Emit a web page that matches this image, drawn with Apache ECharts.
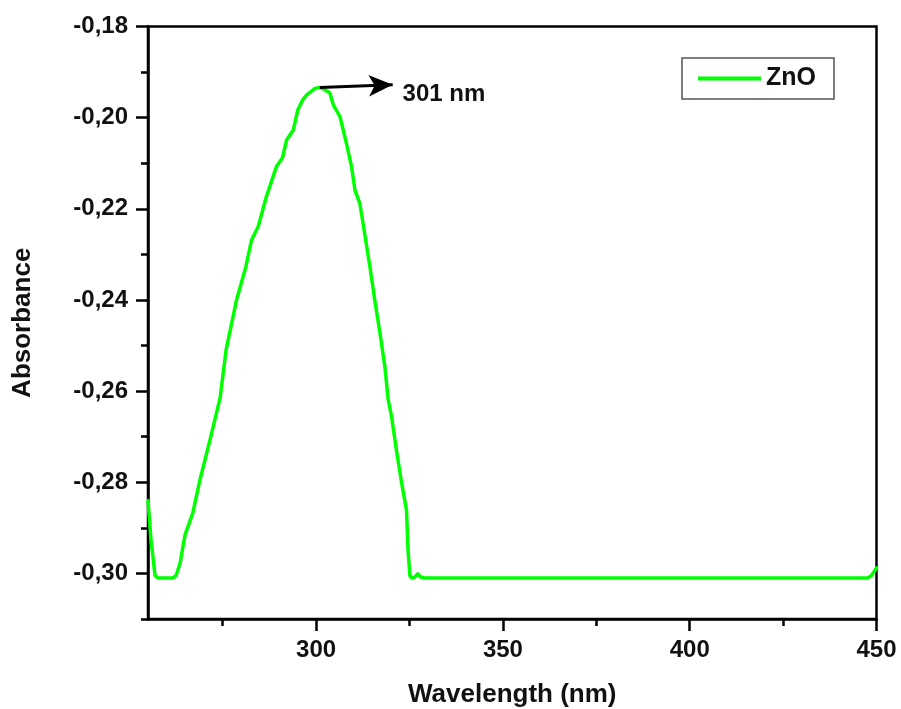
<!DOCTYPE html>
<html>
<head>
<meta charset="utf-8">
<script src="https://cdn.jsdelivr.net/npm/echarts@6/dist/echarts.min.js"></script>
<style>
  html, body { margin: 0; padding: 0; background: #fff; }
  #chart { width: 901px; height: 709px; }
</style>
</head>
<body>
<div id="chart"></div>
<script>
// UV-Vis absorbance spectrum of ZnO
const wavelength = [
  255.0, 255.8, 256.9, 257.7, 261.7, 262.5, 263.6, 264.9, 267.0, 268.9,
  271.6, 274.3, 275.9, 278.7, 281.2, 282.7, 284.5, 286.7, 289.4, 291.0,
  292.1, 293.9, 295.1, 296.4, 297.5, 299.7, 301.0, 302.2, 303.7, 304.6,
  306.4, 308.1, 309.5, 310.4, 311.7, 313.0, 314.4, 315.7, 317.1, 318.4,
  319.3, 320.2, 321.5, 322.9, 324.2, 324.6, 325.1, 325.6, 326.4, 327.2,
  328.0, 329.1, 447.6, 448.6, 450.0
];
const absorbance = [
  -0.2840, -0.2926, -0.3005, -0.3010, -0.3010, -0.3005, -0.2977, -0.2916, -0.2867, -0.2795,
  -0.2707, -0.2615, -0.2510, -0.2400, -0.2327, -0.2269, -0.2239, -0.2173, -0.2107, -0.2088,
  -0.2049, -0.2027, -0.1983, -0.1961, -0.1950, -0.1936, -0.1934, -0.1938, -0.1946, -0.1972,
  -0.1998, -0.2056, -0.2108, -0.2159, -0.2188, -0.2254, -0.2327, -0.2400, -0.2473, -0.2546,
  -0.2619, -0.2656, -0.2729, -0.2802, -0.2861, -0.2948, -0.3005, -0.3010, -0.3008, -0.3001,
  -0.3008, -0.3010, -0.3010, -0.3005, -0.2988
];

const xMajorTicks = [300, 350, 400, 450];
const xMinorTicks = [275, 325, 375, 425];
const yMajorTicks = [-0.30, -0.28, -0.26, -0.24, -0.22, -0.20, -0.18];
const yMinorTicks = [-0.31, -0.29, -0.27, -0.25, -0.23, -0.21, -0.19];

const seriesName = 'ZnO';
const peakLabel = '301 nm';

// peak of the spectrum, where the arrow starts
let peakIdx = 0;
absorbance.forEach((v, i) => { if (v > absorbance[peakIdx]) peakIdx = i; });
const peakPoint = [wavelength[peakIdx], absorbance[peakIdx]];

const font = '"Liberation Sans", Arial, sans-serif';
const fmtY = v => v.toFixed(2).replace('.', ',');

const chart = echarts.init(document.getElementById('chart'), null, { renderer: 'canvas' });

chart.setOption({
  animation: false,
  backgroundColor: '#ffffff',
  grid: {
    left: 148, right: 24.5, top: 26.5, bottom: 90,
    outerBoundsMode: 'none',
    containLabel: false,
    show: true, borderColor: '#000', borderWidth: 2.5, backgroundColor: 'transparent'
  },
  legend: {
    data: [{ name: seriesName, icon: 'rect' }],
    left: 682, top: 58,
    padding: [8, 18, 8, 16],
    itemWidth: 63, itemHeight: 4, itemGap: 5,
    borderColor: '#555', borderWidth: 1.5,
    textStyle: { fontFamily: font, fontWeight: 'bold', fontSize: 25, color: '#111' }
  },
  xAxis: [{
    type: 'value', min: 255, max: 450,
    name: 'Wavelength (nm)', nameLocation: 'middle', nameGap: 63,
    nameTextStyle: { fontFamily: font, fontWeight: 'bold', fontSize: 26, color: '#111' },
    axisLine: { show: true, lineStyle: { color: '#000', width: 2.5 } },
    axisTick: { show: true, inside: false, length: 12, customValues: xMajorTicks,
                lineStyle: { color: '#000', width: 2.5 } },
    axisLabel: { customValues: xMajorTicks, margin: 19,
                 fontFamily: font, fontWeight: 'bold', fontSize: 24, color: '#111' },
    splitLine: { show: false }
  }, {
    type: 'value', min: 255, max: 450, position: 'bottom',
    axisLine: { show: false },
    axisTick: { show: true, inside: false, length: 7, customValues: xMinorTicks,
                lineStyle: { color: '#000', width: 2.5 } },
    axisLabel: { show: false },
    splitLine: { show: false }
  }],
  yAxis: [{
    type: 'value', min: -0.31, max: -0.18,
    name: 'Absorbance', nameLocation: 'middle', nameGap: 112,
    nameTextStyle: { fontFamily: font, fontWeight: 'bold', fontSize: 26, color: '#111' },
    axisLine: { show: true, lineStyle: { color: '#000', width: 2.5 } },
    axisTick: { show: true, inside: false, length: 12, customValues: yMajorTicks,
                lineStyle: { color: '#000', width: 2.5 } },
    axisLabel: { customValues: yMajorTicks, margin: 20, formatter: fmtY,
                 fontFamily: font, fontWeight: 'bold', fontSize: 24, color: '#111' },
    splitLine: { show: false }
  }, {
    type: 'value', min: -0.31, max: -0.18, position: 'left',
    axisLine: { show: false },
    axisTick: { show: true, inside: false, length: 7, customValues: yMinorTicks,
                lineStyle: { color: '#000', width: 2.5 } },
    axisLabel: { show: false },
    splitLine: { show: false }
  }],
  series: [{
    name: seriesName,
    type: 'line',
    xAxisIndex: 0, yAxisIndex: 0,
    data: wavelength.map((w, i) => [w, absorbance[i]]),
    symbol: 'none',
    lineStyle: { color: '#00ff00', width: 3.5, join: 'round', cap: 'round' },
    itemStyle: { color: '#00ff00' },
    z: 3,
    markLine: {
      silent: true,
      symbol: ['none', 'arrow'],
      symbolSize: [16, 24],
      lineStyle: { color: '#000', width: 3, type: 'solid' },
      label: { show: false },
      data: [[{ coord: peakPoint }, { coord: [320.5, -0.1928] }]]
    },
    markPoint: {
      silent: true,
      symbol: 'circle', symbolSize: 1,
      itemStyle: { color: 'transparent' },
      label: {
        show: true, position: 'right', distance: 0,
        formatter: peakLabel,
        fontFamily: font, fontWeight: 'bold', fontSize: 24, color: '#111'
      },
      data: [{ coord: [323.0, -0.1948] }]
    }
  }]
});
</script>
</body>
</html>
